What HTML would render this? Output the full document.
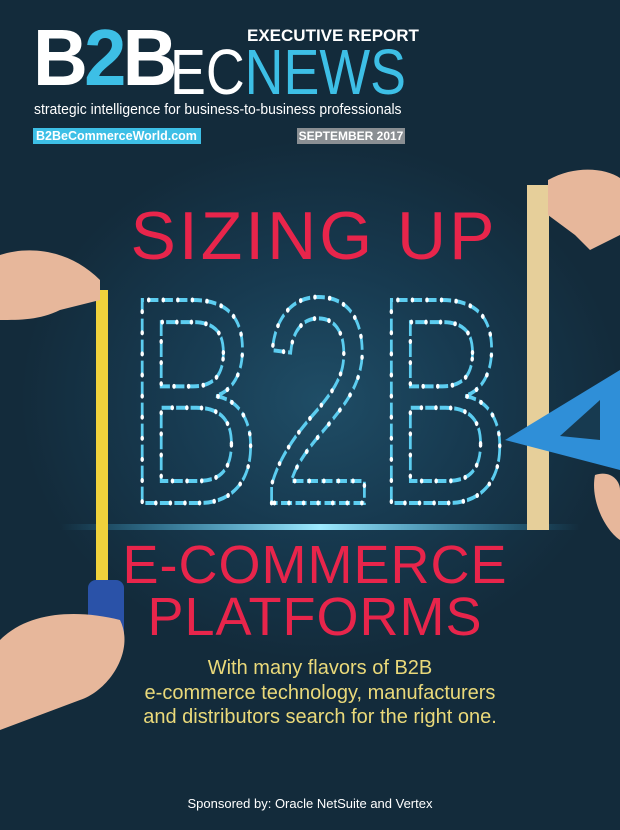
<!DOCTYPE html>
<html><head><meta charset="utf-8"><style>
html,body{margin:0;padding:0}
body{width:620px;height:830px;overflow:hidden;position:relative;font-family:"Liberation Sans",sans-serif;background:radial-gradient(ellipse 300px 260px at 320px 400px,#1f4d66 0%,#173a50 50%,#132b3b 100%)}
.a{position:absolute;white-space:nowrap}
</style></head><body>
<div class="a" style="left:33px;top:18px;font-size:80px;font-weight:bold;color:#fff;letter-spacing:-4px;line-height:80px;transform:scaleX(0.95);transform-origin:left">B<span style="color:#3dbfe6">2</span>B</div>
<div class="a" style="left:170px;top:40px;font-size:64px;line-height:64px;color:#fff;transform:scaleX(0.84);transform-origin:left">EC<span style="color:#3dbfe6">NEWS</span></div>
<div class="a" style="left:247px;top:26px;font-size:17px;font-weight:bold;color:#fff">EXECUTIVE REPORT</div>
<div class="a" style="left:34px;top:101px;font-size:15px;color:#fff;transform:scaleX(0.93);transform-origin:left">strategic intelligence for business-to-business professionals</div>
<div class="a" style="left:33px;top:128px;width:165px;height:16px;background:#3dbfe6;color:#fff;font-size:12.5px;font-weight:bold;line-height:16px;padding-left:3px">B2BeCommerceWorld.com</div>
<div class="a" style="left:297px;top:128px;width:108px;height:16px;background:#8a8f93;color:#fff;font-size:12px;font-weight:bold;line-height:16px;text-align:center">SEPTEMBER 2017</div>

<svg class="a" style="left:0;top:0" width="620" height="830">
<defs><linearGradient id="gl" x1="0" x2="1"><stop offset="0" stop-color="#3dc7ff" stop-opacity="0"/><stop offset="0.5" stop-color="#9eeaff"/><stop offset="1" stop-color="#3dc7ff" stop-opacity="0"/></linearGradient></defs>
<rect x="60" y="524" width="520" height="6" fill="url(#gl)"/>
<text x="318" y="503" text-anchor="middle" font-family="Liberation Sans Narrow, Liberation Sans, sans-serif" font-size="295" textLength="385" lengthAdjust="spacingAndGlyphs" fill="none" stroke="#5ccdf0" stroke-width="4" stroke-dasharray="16 5">B2B</text>
<text x="318" y="503" text-anchor="middle" font-family="Liberation Sans Narrow, Liberation Sans, sans-serif" font-size="295" textLength="385" lengthAdjust="spacingAndGlyphs" fill="none" stroke="#ffffff" stroke-width="5" stroke-linecap="round" stroke-dasharray="0.1 21">B2B</text>
<rect x="527" y="185" width="22" height="345" fill="#e6cf9a"/>
<path d="M548 180 C575 165 605 168 620 178 L620 235 L590 250 L575 235 L548 215 Z" fill="#e7b79b"/>
<polygon points="620,370 505,440 620,470" fill="#2f8fd8"/>
<polygon points="600,400 560,436 600,440" fill="#173a50"/>
<path d="M595 475 C610 470 620 480 620 490 L620 540 C605 530 590 500 595 475 Z" fill="#e7b79b"/>
<rect x="96" y="290" width="12" height="300" fill="#f0d23c"/>
<path d="M0 255 C30 245 70 250 100 280 L100 300 L60 310 C40 320 20 320 0 320 Z" fill="#e7b79b"/>
<rect x="88" y="580" width="36" height="60" rx="8" fill="#2a52a8"/>
<path d="M0 640 C30 610 80 610 120 620 C135 650 110 690 80 700 L0 730 Z" fill="#e7b79b"/>
</svg>

<div class="a" style="left:116px;top:202px;width:396px;font-size:68px;line-height:68px;color:#e8254b;text-align:center;letter-spacing:3px">SIZING UP</div>
<div class="a" style="left:110px;top:538px;width:410px;font-size:54px;line-height:54px;color:#e8254b;text-align:center;letter-spacing:1px">E-COMMERCE</div>
<div class="a" style="left:110px;top:590px;width:410px;font-size:54px;line-height:54px;color:#e8254b;text-align:center;letter-spacing:1px">PLATFORMS</div>
<div class="a" style="left:60px;top:656px;width:520px;font-size:20px;line-height:24.5px;color:#ead97a;text-align:center">With many flavors of B2B<br>e-commerce technology, manufacturers<br>and distributors search for the right one.</div>
<div class="a" style="left:0;top:796px;width:620px;font-size:13px;color:#fff;text-align:center">Sponsored by: Oracle NetSuite and Vertex</div>
</body></html>
